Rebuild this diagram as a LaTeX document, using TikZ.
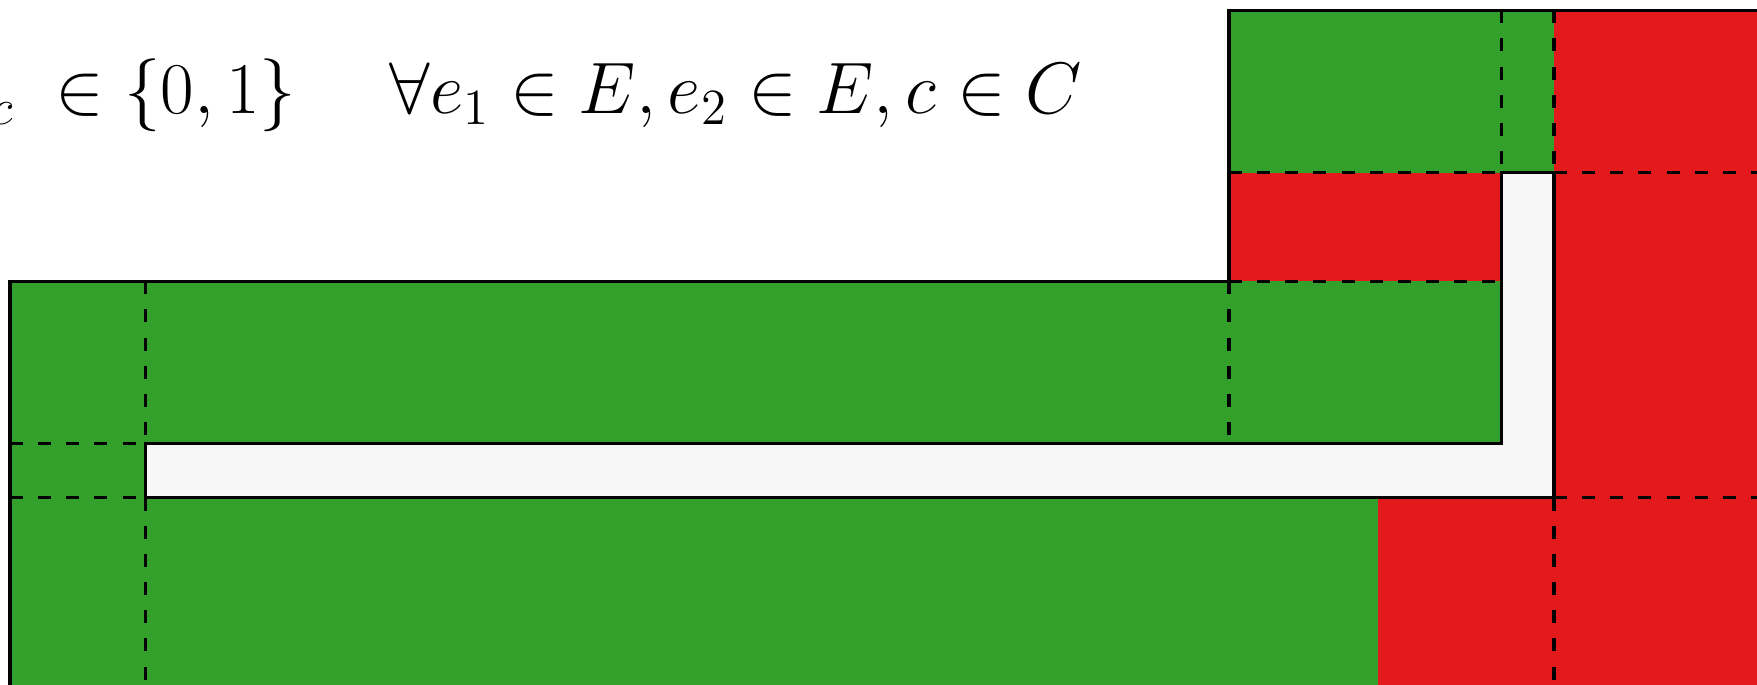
\documentclass[tikz,border=0pt]{standalone}
\definecolor{grn}{RGB}{51,160,44}
\definecolor{rd}{RGB}{227,26,28}
\definecolor{barfill}{RGB}{247,247,247}
\begin{document}
\begin{tikzpicture}[x=0.01cm,y=-0.01cm,line width=1pt,
    cell/.style={dash pattern=on 3.7pt off 4.3pt}]
   \useasboundingbox (0,0) rectangle (1757,685);
   \clip (0,0) rectangle (1757,685);
   \node[anchor=base east,inner sep=0pt,font=\fontsize{20.8}{24}\selectfont] (cons) at (1084,114)
     {$x_{e_1,e_2,c}\; \in \{0,1\} \quad\; \forall e_1 \in E, e_2 \in E, c \in C$};
   % coloured cells
   \foreach \xa/\ya/\xb/\yb/\col in
     {  10/281.3/1501.5/443.7/grn,
        10/443.7/145.7/497.7/grn,
        10/497.7/1377.7/690/grn,
      1229/10.3/1554/172.6/grn,
      1554/10.3/1760/690/rd,
      1229/172.6/1501.5/281.3/rd,
    1377.7/497.7/1554/690/rd}
     \fill[\col] (\xa,\ya) rectangle (\xb,\yb);
   % the free bar
   \draw[fill=barfill] (145.7,443.7) -- (1501.5,443.7) -- (1501.5,172.6)
     -- (1554,172.6) -- (1554,497.7) -- (145.7,497.7) -- cycle;
   % cell borders
   \foreach \xa/\ya/\xb/\yb in
     { 145.7/281.3/145.7/443.7,
       145.7/497.7/145.7/690,
          10/443.7/145.7/443.7,
          10/497.7/145.7/497.7,
        1229/281.3/1229/443.7,
        1229/281.3/1501.5/281.3,
        1229/172.6/1501.5/172.6,
        1554/172.6/1760/172.6,
      1501.5/10.3/1501.5/172.6,
        1554/10.3/1554/172.6,
        1554/497.7/1760/497.7,
        1554/497.7/1554/690}
     \draw[cell] (\xa,\ya) -- (\xb,\yb);
   \draw (10,690) -- (10,281.3) -- (1229,281.3) -- (1229,10.3) -- (1760,10.3);
\end{tikzpicture}
\end{document}
